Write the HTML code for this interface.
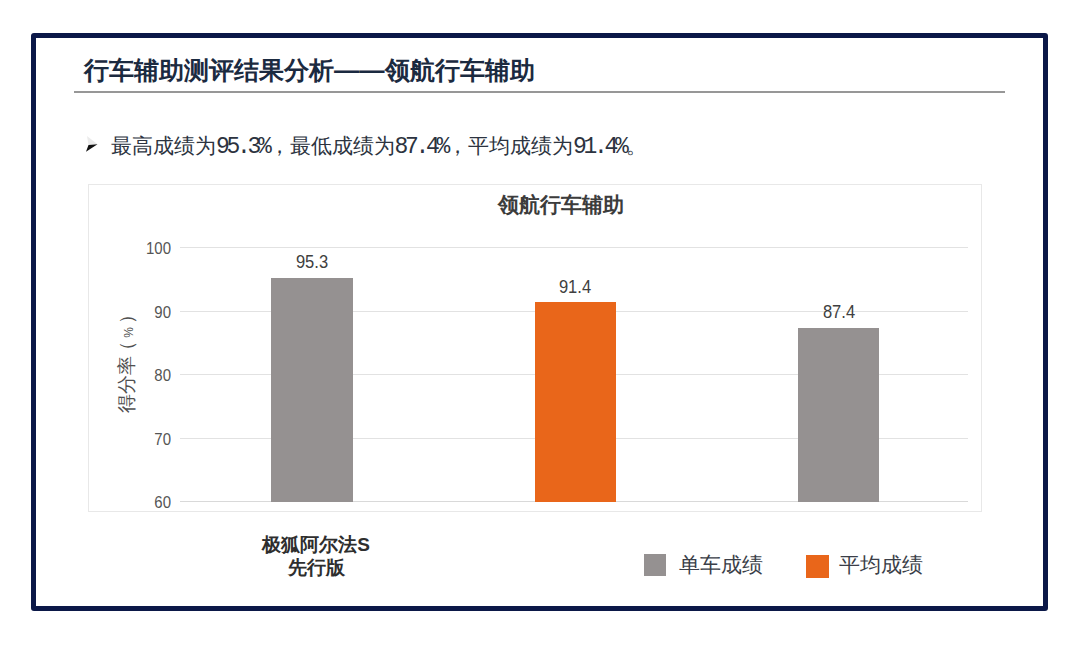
<!DOCTYPE html>
<html><head><meta charset="utf-8">
<style>
*{margin:0;padding:0;box-sizing:border-box}
html,body{width:1080px;height:651px;background:#fff;overflow:hidden;font-family:"Liberation Sans",sans-serif}
.a{position:absolute;white-space:nowrap}
#frame{left:31px;top:33px;width:1017px;height:578px;border:5.5px solid #0b1848;border-radius:3px}
#title{left:84px;top:52.5px;font-size:25.25px;font-weight:bold;color:#1b2a40;line-height:34px}
#sep{left:74px;top:91px;width:931px;height:2px;background:#979797}
.m{font-family:"Liberation Mono",monospace;font-size:23px;letter-spacing:-3.3px}
#sum{left:111px;top:131px;font-size:21px;color:#2c3340;line-height:30px}
#chart{left:88px;top:184px;width:894px;height:328px;border:1px solid #e8e8e8}
.g{position:absolute;left:180px;width:788px;height:1px;background:#e2e2e2}
.yl{position:absolute;width:40px;left:130.5px;text-align:right;font-size:17px;color:#555;line-height:18px;transform:scaleX(.88);transform-origin:100% 50%}
.bar{position:absolute}
.dl{position:absolute;margin-top:1px;font-size:19px;color:#404040;text-align:center;width:80px;line-height:20px;transform:scaleX(.87)}
#ctitle{left:461px;top:192px;width:200px;text-align:center;font-size:21px;font-weight:bold;color:#3c3c3c;line-height:26px}
#ytitle{left:127.5px;top:359px;font-size:19px;color:#505050;transform:translate(-50%,-50%) rotate(-90deg);line-height:20px}
#cat{left:236px;top:532.5px;width:160px;text-align:center;font-size:19px;font-weight:bold;color:#2e2e2e;line-height:23.6px}
.lg{position:absolute;width:22px;height:22px}
.lt{position:absolute;font-size:20.5px;color:#3a3e48;line-height:24px}
</style></head><body>
<div id="frame" class="a"></div>
<div id="title" class="a">行车辅助测评结果分析——领航行车辅助</div>
<div id="sep" class="a"></div>
<svg class="a" style="left:0;top:0" width="120" height="170" viewBox="0 0 120 170"><polygon points="87,136 97.5,144.3 88.5,145" fill="#ebebeb"/><polygon points="86,151.8 97.5,144.3 88.5,145" fill="#111"/></svg>
<div id="sum" class="a">最高成绩为<span class="m">95.3%</span>，最低成绩为<span class="m">87.4%</span>，平均成绩为<span class="m">91.4%</span>。</div>
<div id="chart" class="a"></div>
<div class="g" style="top:247px"></div>
<div class="g" style="top:311px"></div>
<div class="g" style="top:374px"></div>
<div class="g" style="top:438px"></div>
<div class="g" style="top:501px;background:#d9d9d9"></div>
<div class="yl" style="top:240px">100</div>
<div class="yl" style="top:303.5px">90</div>
<div class="yl" style="top:367px">80</div>
<div class="yl" style="top:430.5px">70</div>
<div class="yl" style="top:494px">60</div>
<div class="bar" style="left:271px;top:278px;width:82px;height:223.5px;background:#959191"></div>
<div class="bar" style="left:535px;top:302px;width:81px;height:199.5px;background:#e9661a"></div>
<div class="bar" style="left:798px;top:328px;width:81px;height:173.5px;background:#959191"></div>
<div class="dl" style="left:272px;top:251px">95.3</div>
<div class="dl" style="left:535px;top:276px">91.4</div>
<div class="dl" style="left:799px;top:301px">87.4</div>
<div id="ctitle" class="a">领航行车辅助</div>
<div id="ytitle" class="a">得分率<span style="margin-left:-4px">（</span><span style="font-size:12px;margin:0 3px">%</span>）</div>
<div id="cat" class="a">极狐阿尔法S<br>先行版</div>
<div class="lg" style="left:644px;top:554px;background:#959191"></div>
<div class="lt" style="left:679px;top:553px">单车成绩</div>
<div class="lg" style="left:805.5px;top:555px;width:23px;height:22.5px;background:#e9661a"></div>
<div class="lt" style="left:839px;top:553px">平均成绩</div>
</body></html>
